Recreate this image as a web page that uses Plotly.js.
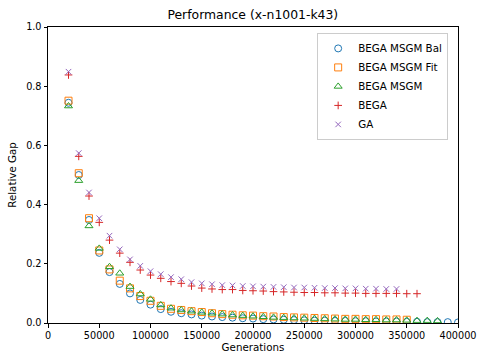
<!DOCTYPE html>
<html>
<head>
<meta charset="utf-8">
<script src="https://cdn.plot.ly/plotly-3.0.1.min.js"></script>
<style>html,body{margin:0;padding:0;background:#fff;}#chart{width:477px;height:356px;}</style>
</head>
<body>
<div id="chart"></div>
<script>
var seriesNames = ["BEGA MSGM Bal", "BEGA MSGM Fit", "BEGA MSGM", "BEGA", "GA"];
var startGen = 20000, stepGen = 10000;

var balValues = [0.744, 0.500, 0.348, 0.237, 0.172, 0.132, 0.100, 0.078, 0.062, 0.047, 0.038, 0.033, 0.029, 0.025, 0.022, 0.020, 0.018, 0.016, 0.015, 0.013, 0.012, 0.011, 0.010, 0.009, 0.008, 0.008, 0.007, 0.007, 0.006, 0.006, 0.005, 0.005, 0.005, 0.004, 0.004, 0.003, 0.003, 0.003, 0.002];
var fitValues = [0.751, 0.506, 0.354, 0.245, 0.181, 0.143, 0.117, 0.091, 0.075, 0.058, 0.048, 0.044, 0.040, 0.037, 0.033, 0.030, 0.028, 0.026, 0.025, 0.023, 0.022, 0.020, 0.019, 0.018, 0.017, 0.016, 0.015, 0.014, 0.014, 0.013, 0.013, 0.012, 0.012, 0.011];
var msgmValues = [0.733, 0.481, 0.328, 0.252, 0.190, 0.168, 0.123, 0.098, 0.080, 0.061, 0.050, 0.044, 0.040, 0.036, 0.033, 0.030, 0.027, 0.025, 0.023, 0.021, 0.019, 0.018, 0.017, 0.016, 0.015, 0.014, 0.013, 0.012, 0.012, 0.011, 0.011, 0.010, 0.010, 0.009, 0.008, 0.008, 0.007];
var begaValues = [0.838, 0.563, 0.429, 0.340, 0.280, 0.236, 0.205, 0.179, 0.162, 0.151, 0.140, 0.134, 0.125, 0.118, 0.115, 0.113, 0.113, 0.110, 0.109, 0.108, 0.106, 0.105, 0.104, 0.103, 0.103, 0.102, 0.102, 0.101, 0.101, 0.100, 0.100, 0.100, 0.100, 0.099, 0.099];
var gaValues = [0.849, 0.574, 0.441, 0.354, 0.295, 0.249, 0.215, 0.193, 0.175, 0.165, 0.155, 0.148, 0.138, 0.134, 0.131, 0.128, 0.127, 0.125, 0.124, 0.123, 0.122, 0.121, 0.120, 0.120, 0.119, 0.118, 0.118, 0.117, 0.117, 0.116, 0.116, 0.115, 0.115];

var xTickVals = [0, 50000, 100000, 150000, 200000, 250000, 300000, 350000, 400000];
var yTickVals = [0, 0.2, 0.4, 0.6, 0.8, 1.0];

function gens(arr) { return arr.map(function (_, i) { return startGen + i * stepGen; }); }

var allValues = [balValues, fitValues, msgmValues, begaValues, gaValues];
var symbols = ["circle-open", "square-open", "triangle-up-open", "cross-thin-open", "x-thin-open"];
var colors = ["#1f77b4", "#ff7f0e", "#2ca02c", "#d62728", "#9467bd"];
var sizes = [7, 7, 7, 5.5, 5.5];

var traces = allValues.map(function (vals, k) {
  return {
    x: gens(vals), y: vals, name: seriesNames[k], type: "scatter", mode: "markers",
    cliponaxis: true,
    marker: { symbol: symbols[k], color: colors[k], size: sizes[k], line: { color: colors[k], width: 1 } }
  };
});

var axisBase = {
  showline: true, mirror: true, linecolor: "#000", linewidth: 1,
  ticks: "outside", ticklen: 3.5, tickwidth: 1, tickcolor: "#000",
  showgrid: false, zeroline: false,
  tickfont: { family: "DejaVu Sans", size: 9.7, color: "#000" }
};

var layout = {
  width: 477, height: 356,
  margin: { l: 48, r: 19, t: 27, b: 33 },
  paper_bgcolor: "#fff", plot_bgcolor: "#fff",
  font: { family: "DejaVu Sans", color: "#000" },
  title: { text: "Performance (x-n1001-k43)", font: { family: "DejaVu Sans", size: 12.4, color: "#000" }, x: 0.53, xanchor: "center", y: 0.96, yanchor: "middle" },
  xaxis: Object.assign({}, axisBase, {
    range: [0, 400000], tickvals: xTickVals, ticktext: xTickVals.map(String),
    title: { text: "Generations", font: { family: "DejaVu Sans", size: 10.3, color: "#000" }, standoff: 1 }
  }),
  yaxis: Object.assign({}, axisBase, {
    range: [0, 1], tickvals: yTickVals, ticktext: yTickVals.map(function (v) { return v.toFixed(1); }),
    title: { text: "Relative Gap", font: { family: "DejaVu Sans", size: 10.3, color: "#000" }, standoff: 7 }
  }),
  showlegend: true,
  legend: {
    x: 0.976, xanchor: "right", y: 0.98, yanchor: "top",
    bgcolor: "rgba(255,255,255,0.8)", bordercolor: "#ccc", borderwidth: 1,
    font: { family: "DejaVu Sans", size: 10.3, color: "#000" },
    tracegroupgap: 0, itemwidth: 30
  }
};

Plotly.newPlot("chart", traces, layout, { displayModeBar: false, staticPlot: true });
</script>
</body>
</html>
